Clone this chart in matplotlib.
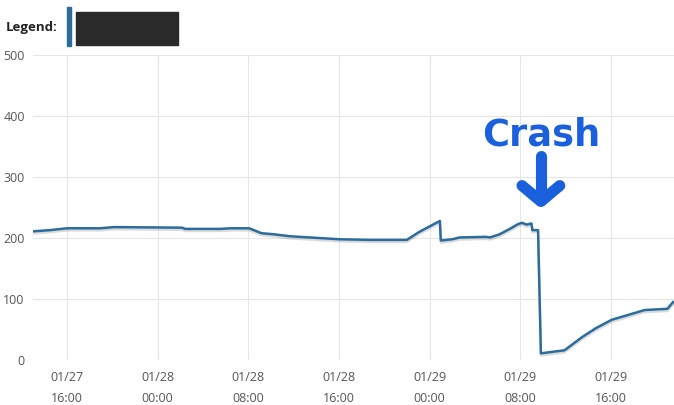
import pandas as pd
import matplotlib
matplotlib.use("Agg")
import matplotlib.pyplot as plt
import matplotlib.dates as mdates
import matplotlib.patheffects as pe
from matplotlib.patches import Rectangle

plt.rcParams['font.family'] = ['Open Sans', 'DejaVu Sans']

# readings (value per timestamp)
times = ["01-27 13:00", "01-27 14:30", "01-27 16:00", "01-27 18:55", "01-27 20:10",
         "01-28 02:10", "01-28 02:25", "01-28 05:30", "01-28 06:25", "01-28 08:05",
         "01-28 09:10", "01-28 10:20", "01-28 11:40", "01-28 16:05", "01-28 18:40",
         "01-28 22:00", "01-28 23:05", "01-29 00:55", "01-29 01:00", "01-29 02:00",
         "01-29 02:40", "01-29 05:00", "01-29 05:20", "01-29 06:10", "01-29 07:05",
         "01-29 07:50", "01-29 08:10", "01-29 08:35", "01-29 09:00", "01-29 09:05",
         "01-29 09:35", "01-29 09:50", "01-29 11:55", "01-29 13:30", "01-29 14:40",
         "01-29 16:05", "01-29 19:00", "01-29 21:00", "01-29 21:30"]
values = [211, 213, 216, 216, 218,
          217, 215, 215, 216, 216,
          208, 206, 203, 198, 197,
          197, 210, 228, 196, 198,
          201, 202, 201, 206, 215,
          223, 225, 222, 224, 213,
          213, 11, 16, 38, 52,
          66, 82, 84, 95]
crash_time = "01-29 09:50"
yticks = [0, 100, 200, 300, 400, 500]

t = pd.to_datetime(["2023-" + s for s in times])
crash = pd.Timestamp("2023-" + crash_time)

fig = plt.figure(figsize=(6.74, 4.05), dpi=100)
ax = fig.add_axes([0.049, 0.111, 0.951, 0.753])

ax.plot(t, values, color='#2b6c9c', lw=1.8, solid_joinstyle='round',
        path_effects=[pe.SimpleLineShadow(offset=(0, -1.5), shadow_color='#999999', alpha=0.35),
                      pe.Normal()])

ax.set_ylim(0, 500)
ax.set_yticks(yticks)
ax.set_xlim(pd.Timestamp("2023-01-27 13:00"), pd.Timestamp("2023-01-29 21:35"))
ax.xaxis.set_major_locator(mdates.HourLocator(byhour=[0, 8, 16]))
ax.xaxis.set_major_formatter(mdates.DateFormatter("%m/%d\n%H:%M"))
ax.grid(True, color='#e6e6e6', lw=0.8)
ax.set_axisbelow(True)
for s in ax.spines.values():
    s.set_visible(False)
ax.tick_params(length=0, labelsize=9, colors='#555555')
ax.tick_params(axis='x', pad=8)
ax.tick_params(axis='y', pad=6)
for lbl in ax.get_xticklabels():
    lbl.set_linespacing(1.75)

# crash annotation
ax.text(crash, 369, "Crash", color='#1a5fdc', fontsize=26.5, fontweight='bold',
        ha='center', va='center', family='DejaVu Sans')
ax.plot([crash, crash], [335, 262], color='#1a5fdc', lw=8, solid_capstyle='round')
head = pd.Timedelta(minutes=100)
ax.plot([crash - head, crash, crash + head], [286, 260, 286], color='#1a5fdc', lw=8,
        solid_capstyle='round', solid_joinstyle='round')

# legend header
fig.text(0.008, 0.932, "Legend:", fontsize=9.5, fontweight='bold', va='center', color='#222222')
fig.patches.append(Rectangle((0.099, 0.886), 0.006, 0.097, transform=fig.transFigure,
                             color='#2b6c9c'))
fig.patches.append(Rectangle((0.113, 0.889), 0.151, 0.082, transform=fig.transFigure,
                             color='#2a2a2a'))

fig.savefig("out.png", dpi=100)
